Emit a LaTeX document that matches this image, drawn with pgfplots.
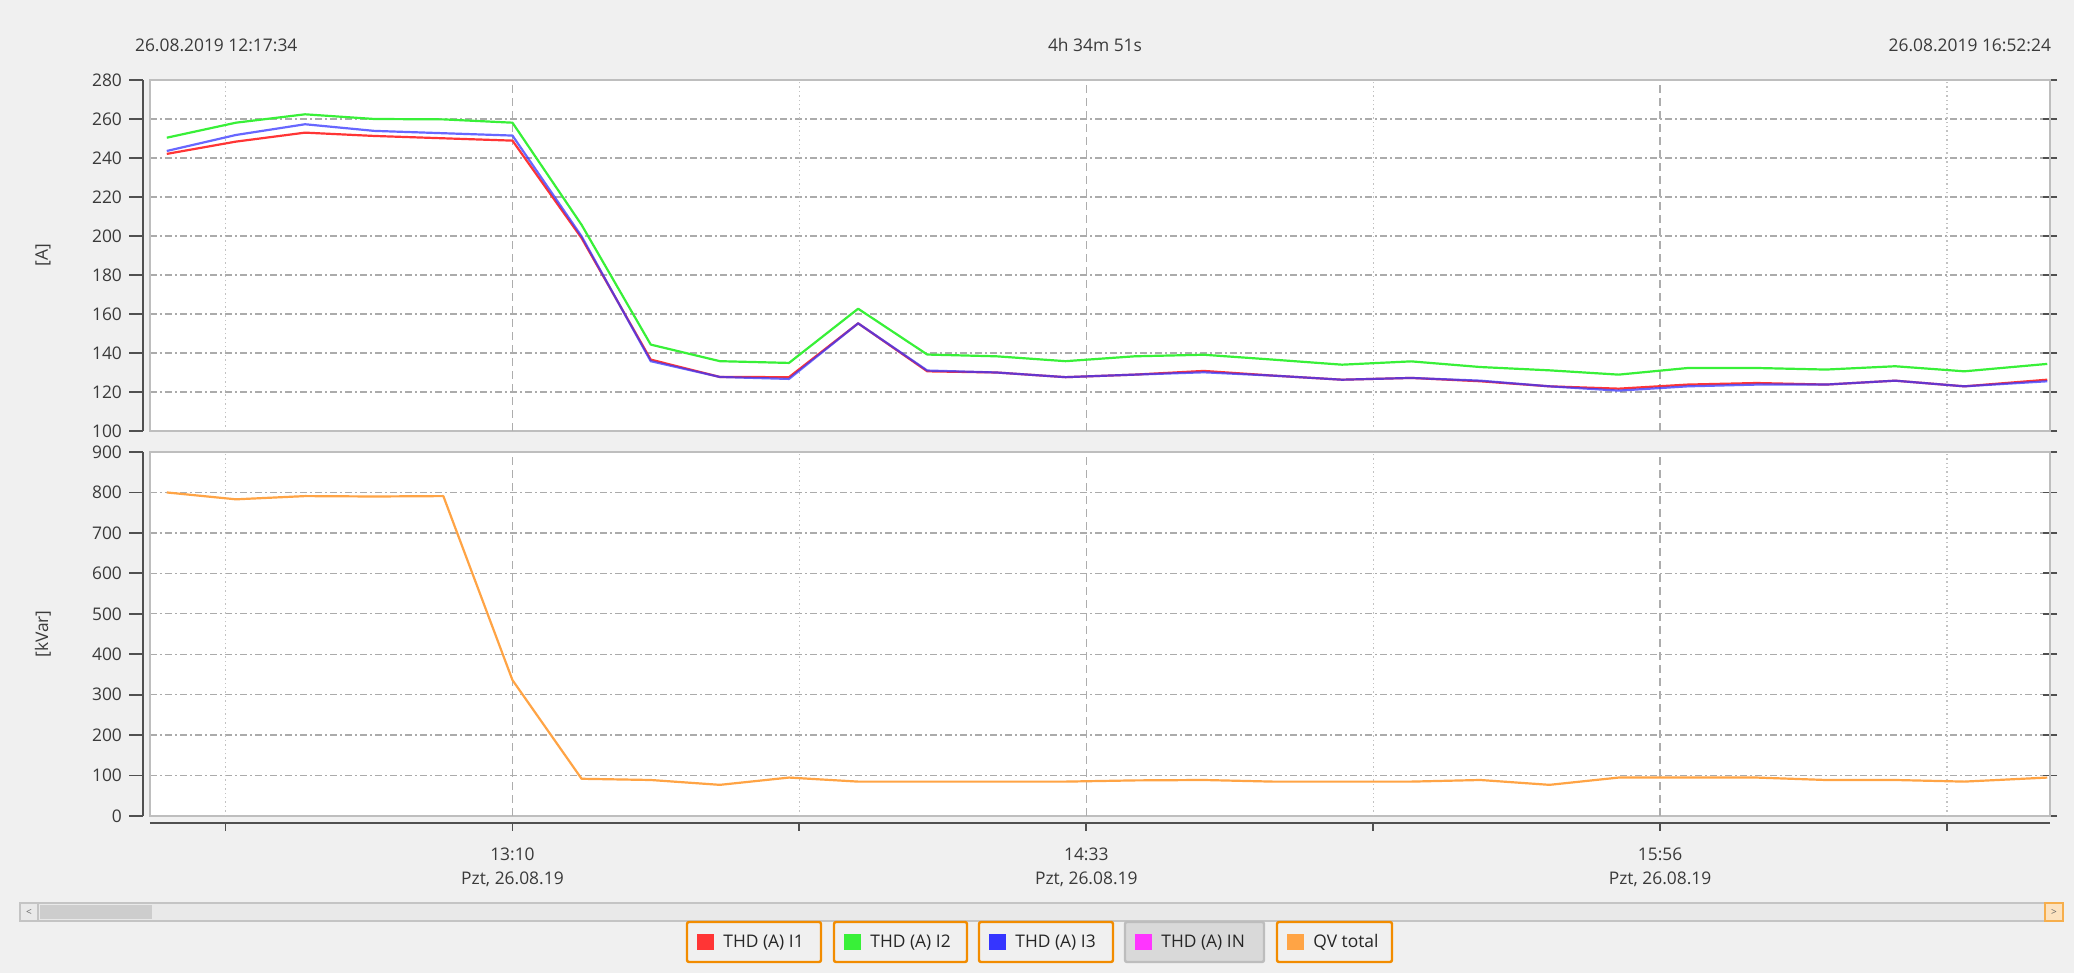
\documentclass[border=0pt]{standalone}
\usepackage{fontspec}
\setmainfont{Open Sans}
\usepackage{pgfplots}
\usepackage{pgfplotstable}
\pgfplotsset{compat=1.18}

\definecolor{bg}{HTML}{F0F0F0}
\definecolor{txt}{HTML}{3A3A3A}
\definecolor{gridc}{HTML}{ABABAB}
\definecolor{vgridc}{HTML}{ADADAD}
\definecolor{mgridc}{HTML}{C2C2C2}
\definecolor{framec}{HTML}{BEBEBE}
\definecolor{axisc}{HTML}{505050}
\definecolor{cI1}{HTML}{FF3535}
\definecolor{cI2}{HTML}{38F038}
\definecolor{cI3}{HTML}{3535FF}
\definecolor{cIN}{HTML}{FF35FF}
\definecolor{cQV}{HTML}{FFA445}
\definecolor{legbd}{HTML}{F28C00}
\definecolor{legoff}{HTML}{D9D9D9}
\definecolor{legoffbd}{HTML}{BDBDBD}
\definecolor{scrtr}{HTML}{E9E9E9}
\definecolor{scrbd}{HTML}{C4C4C4}
\definecolor{scrth}{HTML}{CDCDCD}

\newcommand{\lbl}{\fontsize{8.7}{12}\selectfont}

% minutes since midnight, one sample every 10 min
\pgfplotstableread{
t     I1     I2     I3     QV
740   242.1  250.4  243.6  800
750   248.4  258.1  251.8  783
760   253.0  262.4  257.3  791
770   251.3  260.0  253.9  790
780   250.1  259.8  252.7  791
790   248.9  258.1  251.5  336
800   198.9  205.7  199.8  92
810   136.6  144.3  135.8  89
820   127.7  135.8  127.7  77
830   127.6  134.9  126.7  95
840   155.2  162.7  155.2  85
850   130.6  139.2  131.0  85
860   130.0  138.3  130.0  85
870   127.6  135.8  127.6  85
880   128.9  138.3  128.9  88
890   130.8  139.1  130.1  89
900   128.4  136.6  128.4  85
910   126.3  134.0  126.3  85
920   127.2  135.7  127.2  85
930   125.5  132.8  125.8  89
940   122.9  131.1  122.9  77
950   121.7  128.9  120.7  95
960   123.8  132.3  122.9  95
970   124.6  132.3  123.8  95
980   123.8  131.5  123.8  89
990   125.8  133.2  125.8  89
1000  122.9  130.6  122.9  85
1012  126.3  134.4  125.5  95
}\thd

\pgfplotsset{
  panel/.style={
    scale only axis, width=950pt, anchor=south west,
    xmin=737.57, xmax=1012.4,
    clip=false,
    axis background/.style={fill=white},
    axis line style={draw=framec, line width=0.8pt},
    ymajorgrids,
    major grid style={draw=gridc, line width=0.7pt,
      dash pattern=on 3.5pt off 1.5pt on 1pt off 1.5pt},
    tick align=outside, major tick length=7pt,
    ytick style={draw=axisc, line width=0.9pt, xshift=-3.5pt},
    xtick style={draw=none},
    /pgf/number format/assume math mode=true,
    yticklabel style={font=\lbl, text=txt, xshift=-3.5pt},
    xticklabel style={font=\lbl, text=txt},
    every axis y label/.style={at={([xshift=-53.5pt]rel axis cs:0,0.5)},
      rotate=90, anchor=center, font=\lbl, text=txt},
  },
  series/.style={line width=1.1pt, line join=round},
}

\newcommand{\vgrid}[2]{%
  \pgfplotsinvokeforeach{790,873,956}{\draw[vgridc, line width=0.6pt,
    dash pattern=on 4pt off 2.5pt] (axis cs:##1,#1) -- (axis cs:##1,#2);}%
  \pgfplotsinvokeforeach{748.5,831.5,914.5,997.5}{\draw[mgridc, line width=0.6pt,
    dash pattern=on 0.7pt off 1.5pt] (axis cs:##1,#1) -- (axis cs:##1,#2);}%
}
\newcommand{\yline}{\draw[axisc, line width=0.9pt]
  ([xshift=-3.5pt]rel axis cs:0,0) -- ([xshift=-3.5pt]rel axis cs:0,1);}

\newcommand{\legbox}[5]{%
  \draw[#5, line width=1.2pt, rounded corners=1pt] (#1,5.5) rectangle (#2,25.5);
  \fill[#3] (#1+5,11.5) rectangle (#1+13.5,19.5);
  \node[anchor=west, font=\lbl, text=black!85, inner sep=0pt] at (#1+18,15.3) {#4};
}

\begin{document}
\begin{tikzpicture}[x=1pt,y=1pt]
\fill[bg] (0,0) rectangle (1037,486.5);
\useasboundingbox (0,0) rectangle (1037,486.5);

% header
\node[anchor=west, font=\lbl, text=txt] at (64,464) {26.08.2019 12:17:34};
\node[font=\lbl, text=txt] at (547.5,464) {4h 34m 51s};
\node[anchor=east, font=\lbl, text=txt] at (1029,464) {26.08.2019 16:52:24};

% currents
\begin{axis}[panel, at={(75pt,271pt)}, height=175.5pt,
  ymin=100, ymax=280, ytick={100,120,...,280}, xtick=\empty,
  ylabel={[A]}]
\vgrid{100}{280}
\addplot[series, cI1] table[x=t, y=I1] {\thd};
\addplot[series, cI2] table[x=t, y=I2] {\thd};
\addplot[series, cI3, opacity=0.75] table[x=t, y=I3] {\thd};
\yline
\end{axis}

% reactive power
\begin{axis}[panel, at={(75pt,78.5pt)}, height=182pt,
  ymin=0, ymax=900, ytick={0,100,...,900},
  xtick={790,873,956},
  xticklabels={{13:10\\Pzt, 26.08.19},{14:33\\Pzt, 26.08.19},{15:56\\Pzt, 26.08.19}},
  xticklabel style={align=center, yshift=-5.5pt},
  ylabel={[kVar]}]
\vgrid{0}{900}
\addplot[series, cQV] table[x=t, y=QV] {\thd};
\yline
\draw[axisc, line width=0.9pt]
  ([yshift=-3.5pt]rel axis cs:0,0) -- ([yshift=-3.5pt]rel axis cs:1,0);
\pgfplotsinvokeforeach{748.5,790,831.5,873,914.5,956,997.5}{
  \draw[axisc, line width=0.9pt]
    ([yshift=-3.5pt]axis cs:#1,0) -- ([yshift=-7.5pt]axis cs:#1,0);}
\end{axis}

% scrollbar
\draw[scrbd, fill=scrtr, line width=0.6pt] (10,26) rectangle (1031.5,35);
\draw[scrbd, fill=scrtr, line width=0.6pt] (10,26) rectangle (19,35);
\node[font=\fontsize{5}{6}\selectfont, text=black!60] at (14.5,30.5) {<};
\fill[scrth] (20,27) rectangle (76,34);
\draw[legbd!70, fill=legbd!25, line width=0.6pt] (1022.5,26) rectangle (1031.5,35);
\node[font=\fontsize{5}{6}\selectfont, text=black!60] at (1027,30.5) {>};

% legend
\legbox{343.5}{410.5}{cI1}{THD (A) I1}{legbd}
\legbox{417}{483.5}{cI2}{THD (A) I2}{legbd}
\legbox{489.5}{556.5}{cI3}{THD (A) I3}{legbd}
\fill[legoff, rounded corners=2pt] (562.5,5.5) rectangle (632,25.5);
\legbox{562.5}{632}{cIN}{THD (A) IN}{legoffbd}
\legbox{638.5}{696}{cQV}{QV total}{legbd}
\end{tikzpicture}
\end{document}
